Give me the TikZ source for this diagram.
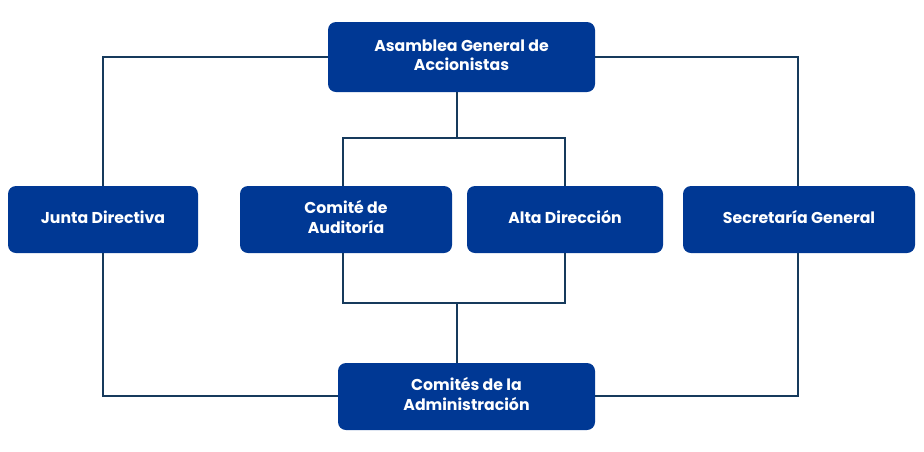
\documentclass[tikz,border=0pt]{standalone}
\usepackage{fontspec}
\setmainfont{Poppins}
\definecolor{boxblue}{RGB}{0,56,148}
\definecolor{linenavy}{RGB}{22,58,92}
\newcommand{\liftup}[2]{\raisebox{#1}{\begin{tabular}{@{}c@{}}#2\end{tabular}}}
\begin{document}
\begin{tikzpicture}[x=0.75pt,y=-0.75pt,
  orgbox/.style={draw=none,fill=boxblue,rounded corners=6pt,text=white,
    font=\bfseries\fontsize{11.8}{14.6}\selectfont,align=center,inner sep=0pt},
  conn/.style={draw=linenavy,line width=1.9pt}]
\useasboundingbox (0,0) rectangle (924,451);
\coordinate (tl) at (103,57);
\coordinate (tr) at (798,57);
\coordinate (bl) at (103,396);
\coordinate (br) at (798,396);
\coordinate (upL) at (343,138);
\coordinate (upR) at (565,138);
\coordinate (upM) at (457,138);
\coordinate (loL) at (343,303);
\coordinate (loR) at (565,303);
\coordinate (loM) at (457,303);
\node[orgbox,minimum width=267pt*0.75,minimum height=70pt*0.75] (asam) at (461.5,57) {\liftup{3.4pt}{Asamblea General de\\Accionistas}};
\node[orgbox,minimum width=190pt*0.75,minimum height=67pt*0.75] (junta) at (103,219.5) {\liftup{1pt}{Junta Directiva}};
\node[orgbox,minimum width=212pt*0.75,minimum height=67pt*0.75] (comite) at (346,219.5) {\liftup{0.3pt}{Comité de\\Auditoría}};
\node[orgbox,minimum width=196pt*0.75,minimum height=67pt*0.75] (alta) at (565,219.5) {\liftup{2.6pt}{Alta Dirección}};
\node[orgbox,minimum width=232pt*0.75,minimum height=67pt*0.75] (secr) at (799,219.5) {\liftup{1pt}{Secretaría General}};
\node[orgbox,minimum width=257pt*0.75,minimum height=67pt*0.75] (admin) at (466.5,396.5) {\liftup{2.3pt}{Comités de la\\Administración}};
\draw[conn] (junta.north -| tl) -- (tl) -- (asam.west |- tl);
\draw[conn] (asam.east |- tr) -- (tr) -- (secr.north -| tr);
\draw[conn] (asam.south -| upM) -- (upM);
\draw[conn] (comite.north -| upL) -- (upL) -- (upR) -- (alta.north -| upR);
\draw[conn] (comite.south -| loL) -- (loL) -- (loR) -- (alta.south -| loR);
\draw[conn] (loM) -- (admin.north -| loM);
\draw[conn] (junta.south -| bl) -- (bl) -- (admin.west |- bl);
\draw[conn] (secr.south -| br) -- (br) -- (admin.east |- br);
\end{tikzpicture}
\end{document}
